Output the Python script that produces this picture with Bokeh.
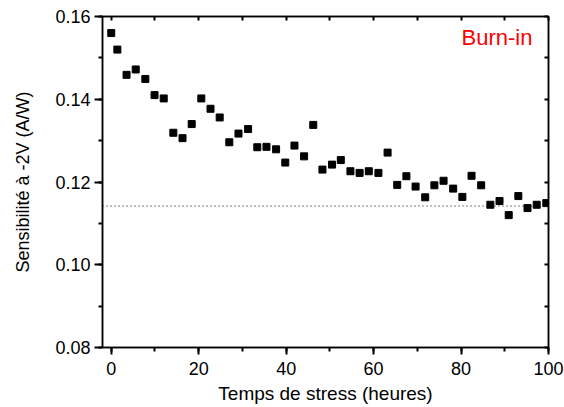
from bokeh.plotting import figure
from bokeh.models import LinearAxis, Span, Label, FixedTicker
from bokeh.embed import file_html
from bokeh.resources import INLINE

hours = [0, 1.4, 3.5, 5.6, 7.8, 9.9, 12.0, 14.2, 16.3, 18.4, 20.6, 22.7, 24.8,
         27.0, 29.1, 31.3, 33.4, 35.5, 37.7, 39.8, 41.9, 44.1, 46.2, 48.3,
         50.5, 52.5, 54.7, 56.8, 58.9, 61.1, 63.2, 65.4, 67.5, 69.6, 71.8,
         73.9, 76.0, 78.2, 80.3, 82.4, 84.6, 86.7, 88.8, 90.9, 93.1, 95.2,
         97.3, 99.5]
sens = [0.1560, 0.1520, 0.1459, 0.1472, 0.1449, 0.1410, 0.1402, 0.1319,
        0.1306, 0.1340, 0.1402, 0.1377, 0.1356, 0.1296, 0.1317, 0.1328,
        0.1284, 0.1285, 0.1279, 0.1247, 0.1288, 0.1262, 0.1338, 0.1230,
        0.1242, 0.1253, 0.1226, 0.1222, 0.1226, 0.1222, 0.1271, 0.1193,
        0.1214, 0.1189, 0.1163, 0.1192, 0.1203, 0.1184, 0.1164, 0.1215,
        0.1192, 0.1145, 0.1154, 0.1120, 0.1166, 0.1137, 0.1145, 0.1149]
ref_level = 0.1142
x_ticks = [0, 20, 40, 60, 80, 100]
x_minor = [0, 10, 20, 30, 40, 50, 60, 70, 80, 90, 100]
y_ticks = [0.08, 0.10, 0.12, 0.14, 0.16]
y_minor = [0.08, 0.09, 0.10, 0.11, 0.12, 0.13, 0.14, 0.15, 0.16]
y_tick_labels = {0.08: "0.08", 0.10: "0.10", 0.12: "0.12", 0.14: "0.14", 0.16: "0.16"}
annotation = "Burn-in"
x_title = "Temps de stress (heures)"
y_title = "Sensibilité à -2V (A/W)"

FONT = "Liberation Sans"

p = figure(width=564, height=407, output_backend="svg", toolbar_location=None,
           x_range=(-2, 100), y_range=(0.08, 0.16),
           min_border_left=102, min_border_right=16, min_border_top=16,
           min_border_bottom=60, x_axis_location=None, y_axis_location=None)
p.grid.visible = False
p.outline_line_color = "black"
p.outline_line_width = 1.5
p.background_fill_color = "white"
p.border_fill_color = "white"


def style_ticks(ax, col="black", w=2):
    ax.major_tick_line_color = col
    ax.major_tick_line_width = w
    ax.minor_tick_line_color = col
    ax.minor_tick_line_width = w
    ax.axis_line_color = "black"
    ax.axis_line_width = 1.5


# bottom axis
xb = LinearAxis(ticker=FixedTicker(ticks=x_ticks, minor_ticks=x_minor), axis_label=x_title)
style_ticks(xb)
xb.major_tick_out = 7
xb.major_tick_in = 0
xb.minor_tick_out = 4
xb.minor_tick_in = 0
xb.major_label_text_font = FONT
xb.major_label_text_font_size = "18px"
xb.major_label_text_color = "black"
xb.axis_label_text_font = FONT
xb.axis_label_text_font_size = "19px"
xb.axis_label_text_font_style = "normal"
xb.axis_label_text_color = "black"
xb.axis_label_standoff = 5
xb.major_label_standoff = 7
p.add_layout(xb, "below")

# left axis
yl = LinearAxis(ticker=FixedTicker(ticks=y_ticks, minor_ticks=y_minor), axis_label=y_title)
style_ticks(yl)
yl.major_label_overrides = y_tick_labels
yl.major_tick_out = 8
yl.major_tick_in = 0
yl.minor_tick_out = 4
yl.minor_tick_in = 0
yl.major_label_text_font = FONT
yl.major_label_text_font_size = "18px"
yl.major_label_text_color = "black"
yl.axis_label_text_font = FONT
yl.axis_label_text_font_size = "18px"
yl.axis_label_text_font_style = "normal"
yl.axis_label_text_color = "black"
yl.axis_label_standoff = 19
yl.major_label_standoff = 4
p.add_layout(yl, "left")

# top axis (inward ticks, no labels)
xt = LinearAxis(ticker=FixedTicker(ticks=x_minor, minor_ticks=[]))
style_ticks(xt)
xt.major_tick_in = 4
xt.major_tick_out = 0
xt.major_label_text_font_size = "0px"
xt.major_label_text_alpha = 0
xt.major_label_standoff = 0
p.add_layout(xt, "above")

# right axis
yr = LinearAxis(ticker=FixedTicker(ticks=y_minor, minor_ticks=[]))
style_ticks(yr)
yr.major_tick_in = 4
yr.major_tick_out = 0
yr.major_label_text_font_size = "0px"
yr.major_label_text_alpha = 0
yr.major_label_standoff = 0
p.add_layout(yr, "right")

p.add_layout(Span(location=ref_level, dimension="width", line_color="black",
                  line_width=1.2, line_dash="1 3"))

p.scatter(hours, sens, marker="square", size=7, fill_color="black", line_color="black")

p.add_layout(Label(x=80.1, y=0.1580, text=annotation, text_color="red",
                   text_font=FONT, text_font_size="22px", text_baseline="top"))

open("out.html", "w").write(file_html(p, INLINE))
